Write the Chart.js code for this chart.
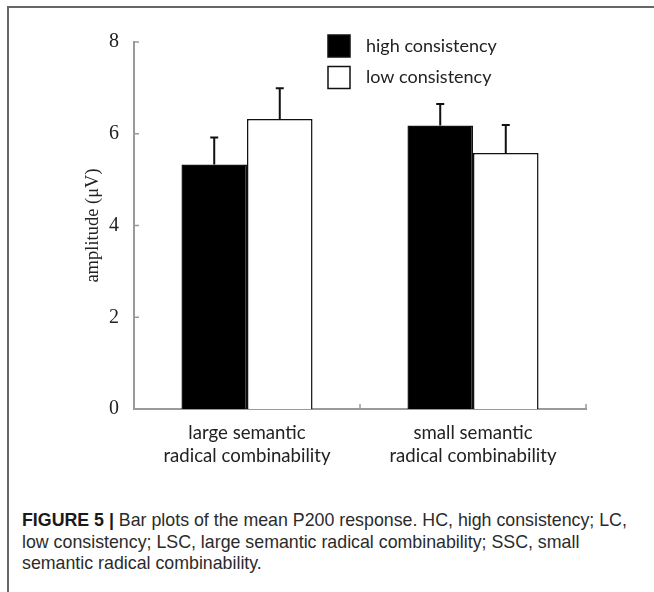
<!DOCTYPE html>
<html>
<head>
<meta charset="utf-8">
<script src="https://cdn.jsdelivr.net/npm/chart.js@4.4.1/dist/chart.umd.min.js"></script>
<style>
  html, body { margin: 0; padding: 0; background: #fff; }
  body { width: 654px; height: 592px; position: relative; overflow: hidden; }
  #frame { position: absolute; left: 7px; top: 6px; width: 700px; height: 700px;
           border-top: 2px solid #666; border-left: 2px solid #666; }
  #wrap { position: absolute; left: 0; top: 0; width: 654px; height: 510px; }
  #caption { position: absolute; left: 22px; top: 510px; width: 630px;
             font-family: "Liberation Sans", Arial, sans-serif; font-size: 17.8px;
             line-height: 21.7px; color: #2b2b2b; white-space: nowrap; }
  #caption b { font-weight: bold; color: #1a1a1a; }
</style>
</head>
<body>
<div id="frame"></div>
<div id="wrap"><canvas id="c" width="654" height="510"></canvas></div>
<div id="caption"><b>FIGURE 5 |</b> Bar plots of the mean P200 response. HC, high consistency; LC,<br>low consistency; LSC, large semantic radical combinability; SSC, small<br>semantic radical combinability.</div>
<script>
// ---- data ----
const categories = [["large semantic", "radical combinability"], ["small semantic", "radical combinability"]];
const seriesNames = ["high consistency", "low consistency"];
const highValues = [5.33, 6.18];
const highErrors = [0.59, 0.47];
const lowValues = [6.32, 5.58];
const lowErrors = [0.67, 0.61];
const yTicks = [0, 2, 4, 6, 8];

const LABEL_FONT = "Lato";

// error bars plugin
const errorBars = {
  id: 'errorBars',
  afterDatasetsDraw(chart) {
    const ctx = chart.ctx;
    const y = chart.scales.y;
    chart.data.datasets.forEach((ds, di) => {
      const meta = chart.getDatasetMeta(di);
      meta.data.forEach((bar, i) => {
        const v = ds.data[i], e = ds.errors[i];
        const yTop = y.getPixelForValue(v + e);
        const yBar = y.getPixelForValue(v);
        ctx.save();
        ctx.strokeStyle = '#111';
        ctx.lineWidth = 2;
        ctx.beginPath();
        ctx.moveTo(bar.x, yBar);
        ctx.lineTo(bar.x, yTop);
        ctx.moveTo(bar.x - 4, yTop);
        ctx.lineTo(bar.x + 4, yTop);
        ctx.stroke();
        ctx.restore();
      });
    });
  }
};

// inward tick marks
const inwardTicks = {
  id: 'inwardTicks',
  afterDraw(chart) {
    const ctx = chart.ctx;
    const x = chart.scales.x, y = chart.scales.y;
    const area = chart.chartArea;
    ctx.save();
    ctx.strokeStyle = '#9a9a9a';
    ctx.lineWidth = 1.5;
    ctx.beginPath();
    yTicks.forEach(t => {
      const py = y.getPixelForValue(t);
      ctx.moveTo(area.left, py);
      ctx.lineTo(area.left + 5, py);
    });
    for (let i = 1; i <= categories.length; i++) {
      const px = x.getPixelForValue(i - 0.5);
      ctx.moveTo(px, area.bottom);
      ctx.lineTo(px, area.bottom - 5);
    }
    ctx.stroke();
    ctx.restore();
  }
};

// legend drawn in the plot
const boxLegend = {
  id: 'boxLegend',
  afterDraw(chart) {
    const ctx = chart.ctx;
    ctx.save();
    chart.data.datasets.forEach((ds, i) => {
      const bx = 328, by = 35 + i * 31.5;
      ctx.fillStyle = ds.backgroundColor;
      ctx.strokeStyle = '#111';
      ctx.lineWidth = 1.5;
      ctx.fillRect(bx, by, 22, 22);
      ctx.strokeRect(bx, by, 22, 22);
      ctx.fillStyle = '#222';
      ctx.font = '18px ' + LABEL_FONT;
      ctx.textBaseline = 'middle';
      ctx.textAlign = 'left';
      ctx.fillText(ds.label, 366, by + 11);
    });
    ctx.restore();
  }
};

const chart = new Chart(document.getElementById('c'), {
  type: 'bar',
  data: {
    labels: categories,
    datasets: [
      { label: seriesNames[0], data: highValues, errors: highErrors,
        backgroundColor: '#000', borderColor: '#111', borderWidth: 1.5 },
      { label: seriesNames[1], data: lowValues, errors: lowErrors,
        backgroundColor: '#fff', borderColor: '#111', borderWidth: 1.5 }
    ]
  },
  options: {
    responsive: false,
    animation: false,
    devicePixelRatio: 1,
    layout: { padding: { left: 0, top: 42, right: 68, bottom: 41 } },
    plugins: { legend: { display: false }, tooltip: { enabled: false } },
    datasets: { bar: { categoryPercentage: 0.58, barPercentage: 1.0, borderSkipped: 'bottom' } },
    scales: {
      x: {
        grid: { display: false, drawTicks: false },
        border: { display: true, color: '#9a9a9a', width: 2 },
        ticks: { color: '#222', padding: 12, font: { family: LABEL_FONT, size: 18.6, lineHeight: 1.27 } },
        afterFit(s) { s.height = 60; }
      },
      y: {
        min: 0, max: 8,
        afterBuildTicks(s) { s.ticks = yTicks.map(v => ({ value: v })); },
        grid: { display: false, drawTicks: false },
        border: { display: true, color: '#9a9a9a', width: 2 },
        ticks: { color: '#222', padding: 15, font: { family: 'Liberation Serif', size: 20 } },
        title: { display: true, text: 'amplitude (μV)', color: '#222', padding: { top: 82, bottom: 0 },
                 font: { family: 'Liberation Serif', size: 18.5 } },
        afterFit(s) { s.width = 134; }
      }
    }
  },
  plugins: [errorBars, inwardTicks, boxLegend]
});
</script>
</body>
</html>
